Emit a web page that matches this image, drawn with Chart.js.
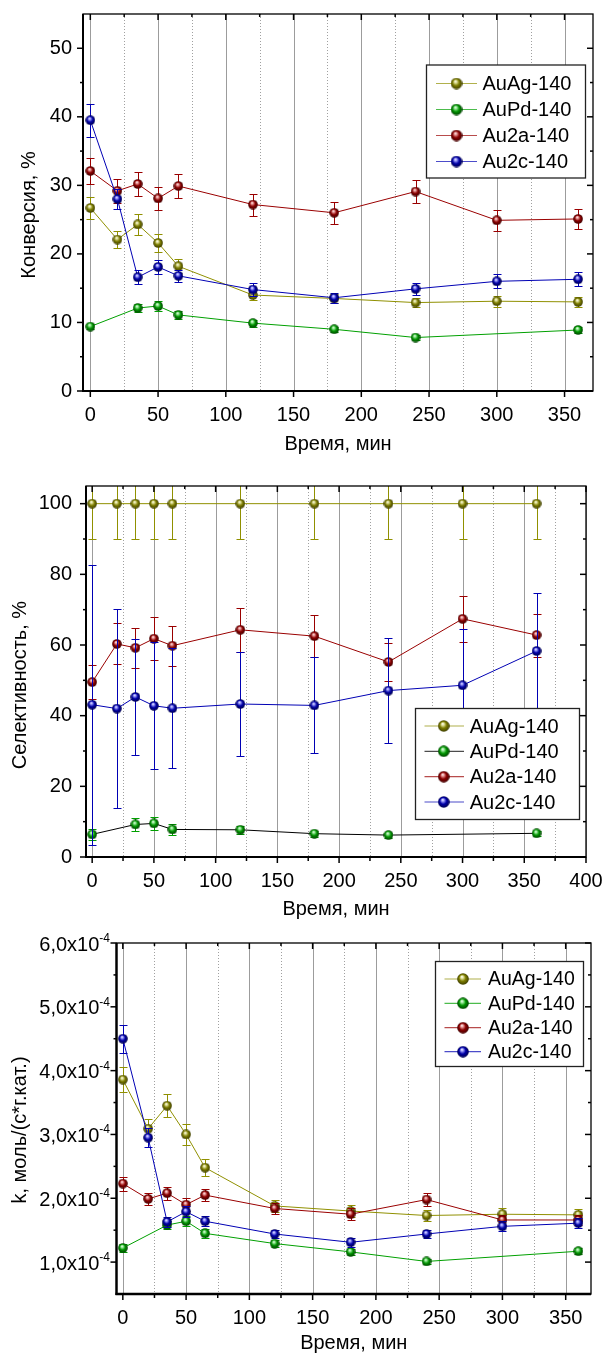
<!DOCTYPE html>
<html>
<head>
<meta charset="utf-8">
<script src="https://cdn.jsdelivr.net/npm/chart.js@4"></script>
<style>
  body { margin: 0; background: #fff; width: 603px; height: 1353px; position: relative; overflow: hidden; }
  .panel { position: absolute; left: 0; width: 603px; }
</style>
</head>
<body>
<div class="panel" style="top:0;height:460px"><canvas id="conv" width="603" height="460"></canvas></div>
<div class="panel" style="top:460px;height:460px"><canvas id="sel" width="603" height="460"></canvas></div>
<div class="panel" style="top:920px;height:433px"><canvas id="rate" width="603" height="433"></canvas></div>
<script>
// время отбора проб, мин
const TIME = [0, 20, 35, 50, 65, 120, 180, 240, 300, 360];
const TIME_PD = [0, 35, 50, 65, 120, 180, 240, 360];

// конверсия, %
const CONV_AUAG = [26.7, 22.1, 24.3, 21.6, 18.2, 14.0, 13.5, 12.9, 13.1, 13.0];
const CONV_AUAG_ERR = [1.6, 1.3, 1.5, 1.3, 1.0, 0.7, 0.7, 0.7, 0.8, 0.7];
const CONV_AUPD = [9.4, 12.1, 12.4, 11.1, 9.9, 9.0, 7.8, 8.9];
const CONV_AUPD_ERR = [0.4, 0.6, 0.7, 0.6, 0.5, 0.4, 0.4, 0.4];
const CONV_AU2A = [32.1, 29.2, 30.2, 28.1, 29.9, 27.2, 26.0, 29.1, 24.9, 25.1];
const CONV_AU2A_ERR = [1.9, 1.7, 1.8, 1.7, 1.8, 1.6, 1.6, 1.7, 1.5, 1.5];
const CONV_AU2C = [39.5, 28.0, 16.6, 18.1, 16.8, 14.8, 13.6, 14.9, 16.0, 16.3];
const CONV_AU2C_ERR = [2.4, 1.5, 1.0, 1.0, 0.9, 0.9, 0.7, 0.9, 1.0, 1.0];

// селективность, %
const SEL_AUAG = [100, 100, 100, 100, 100, 100, 100, 100, 100, 100];
const SEL_AUAG_ERR = [10, 10, 10, 10, 10, 10, 10, 10, 10, 10];
const SEL_AUPD = [6.4, 9.2, 9.5, 7.8, 7.7, 6.6, 6.2, 6.7];
const SEL_AUPD_ERR = [1.5, 1.7, 1.8, 1.5, 1.2, 0.9, 0.7, 0.8];
const SEL_AU2A = [49.5, 60.3, 59.2, 61.8, 59.8, 64.3, 62.5, 55.2, 67.4, 62.8];
const SEL_AU2A_ERR = [4.9, 5.8, 5.7, 6.0, 5.7, 6.3, 6.0, 5.4, 6.5, 6.1];
const SEL_AU2C = [43.1, 42.0, 45.3, 42.8, 42.1, 43.3, 42.9, 47.1, 48.6, 58.3];
const SEL_AU2C_ERR = [39.6, 28.2, 16.5, 18.0, 17.0, 14.7, 13.6, 14.9, 16.0, 16.4];

// константа скорости k, моль/(с*г.кат.)
const K_AUAG = [3.86e-4, 3.09e-4, 3.45e-4, 3.00e-4, 2.48e-4, 1.88e-4, 1.80e-4, 1.73e-4, 1.75e-4, 1.74e-4];
const K_AUAG_ERR = [0.20e-4, 0.15e-4, 0.18e-4, 0.16e-4, 0.13e-4, 0.10e-4, 0.10e-4, 0.09e-4, 0.09e-4, 0.09e-4];
const K_AUPD = [1.22e-4, 1.58e-4, 1.64e-4, 1.45e-4, 1.29e-4, 1.16e-4, 1.01e-4, 1.17e-4];
const K_AUPD_ERR = [0.06e-4, 0.06e-4, 0.08e-4, 0.07e-4, 0.06e-4, 0.05e-4, 0.04e-4, 0.05e-4];
const K_AU2A = [2.23e-4, 1.99e-4, 2.08e-4, 1.90e-4, 2.05e-4, 1.84e-4, 1.75e-4, 1.98e-4, 1.66e-4, 1.66e-4];
const K_AU2A_ERR = [0.11e-4, 0.10e-4, 0.10e-4, 0.10e-4, 0.10e-4, 0.09e-4, 0.09e-4, 0.10e-4, 0.08e-4, 0.08e-4];
const K_AU2C = [4.50e-4, 2.95e-4, 1.63e-4, 1.79e-4, 1.64e-4, 1.44e-4, 1.31e-4, 1.44e-4, 1.56e-4, 1.61e-4];
const K_AU2C_ERR = [0.22e-4, 0.15e-4, 0.08e-4, 0.09e-4, 0.08e-4, 0.07e-4, 0.07e-4, 0.07e-4, 0.08e-4, 0.08e-4];

// деления осей
const X_TICKS = [0, 50, 100, 150, 200, 250, 300, 350];
const X_MINOR = [25, 75, 125, 175, 225, 275, 325];
const X_TICKS_SEL = [0, 50, 100, 150, 200, 250, 300, 350, 400];
const X_MINOR_SEL = [25, 75, 125, 175, 225, 275, 325, 375];
const CONV_TICKS = [0, 10, 20, 30, 40, 50];
const CONV_MINOR = [5, 15, 25, 35, 45];
const SEL_TICKS = [0, 20, 40, 60, 80, 100];
const SEL_MINOR = [10, 30, 50, 70, 90];
const K_TICKS = [1e-4, 2e-4, 3e-4, 4e-4, 5e-4, 6e-4];
const K_MINOR = [1.5e-4, 2.5e-4, 3.5e-4, 4.5e-4, 5.5e-4];

const FONT = '"Liberation Sans", Arial, Helvetica, sans-serif';
Chart.defaults.font.family = FONT;
Chart.defaults.color = '#000';

const STYLE = {
  AuAg: { line: '#909000', ball: '#7d7d00', hi: '#e8e8a8', dark: '#3a3a00', order: 3 },
  AuPd: { line: '#00a000', ball: '#009600', hi: '#a8f0a8', dark: '#003c00', order: 2 },
  Au2a: { line: '#9a0000', ball: '#8c0000', hi: '#f0a8a8', dark: '#3c0000', order: 1 },
  Au2c: { line: '#0000b4', ball: '#0000a8', hi: '#a8a8ff', dark: '#000048', order: 0 }
};

// шарик-маркер с бликом
function sphere(st, d) {
  const cv = document.createElement('canvas');
  cv.width = cv.height = d;
  const g = cv.getContext('2d');
  const r = d / 2;
  const gr = g.createRadialGradient(r * 0.8, r * 0.6, 0, r, r, r);
  gr.addColorStop(0, '#ffffff');
  gr.addColorStop(0.2, st.hi);
  gr.addColorStop(0.55, st.ball);
  gr.addColorStop(1, st.dark);
  g.fillStyle = gr;
  g.beginPath();
  g.arc(r, r, r - 0.2, 0, Math.PI * 2);
  g.fill();
  return cv;
}

function series(label, xs, ys, errs, st, line) {
  return {
    label,
    data: xs.map((t, i) => ({ x: t, y: ys[i] })),
    errors: errs,
    errorColor: st.line,
    borderColor: line || st.line,
    borderWidth: 1,
    pointStyle: sphere(st, 10),
    legendBall: sphere(st, 12),
    pointRadius: 5,
    pointHoverRadius: 5,
    order: st.order
  };
}

// вертикальные погрешности
const errorBars = {
  id: 'errorBars',
  beforeDatasetDraw(chart, args) {
    const ds = chart.data.datasets[args.index];
    if (!ds.errors) return;
    const { ctx, chartArea: a, scales: { x, y } } = chart;
    ctx.save();
    ctx.beginPath();
    ctx.rect(a.left, a.top, a.right - a.left, a.bottom - a.top);
    ctx.clip();
    ctx.strokeStyle = ds.errorColor;
    ctx.lineWidth = 1;
    ds.data.forEach((p, i) => {
      const e = ds.errors[i];
      const px = Math.round(x.getPixelForValue(p.x)) + 0.5;
      const y1 = Math.round(y.getPixelForValue(p.y + e)) + 0.5;
      const y2 = Math.round(y.getPixelForValue(p.y - e)) + 0.5;
      ctx.beginPath();
      ctx.moveTo(px, y1); ctx.lineTo(px, y2);
      ctx.moveTo(px - 4, y1); ctx.lineTo(px + 4, y1);
      ctx.moveTo(px - 4, y2); ctx.lineTo(px + 4, y2);
      ctx.stroke();
    });
    ctx.restore();
  }
};

// сетка, рамка с засечками, легенда и подписи оси Y
const frame = {
  id: 'frame',
  beforeDatasetsDraw(chart, args, o) {
    const { ctx, chartArea: a, scales: { x } } = chart;
    ctx.save();
    ctx.lineWidth = 1;
    ctx.strokeStyle = '#9c9c9c';
    o.xMajor.forEach(v => {
      const p = Math.round(x.getPixelForValue(v)) + 0.5;
      ctx.beginPath(); ctx.moveTo(p, a.top); ctx.lineTo(p, a.bottom); ctx.stroke();
    });
    ctx.setLineDash([1, 2]);
    ctx.strokeStyle = '#a0a0a0';
    o.xMinor.forEach(v => {
      const p = Math.round(x.getPixelForValue(v)) + 0.5;
      ctx.beginPath(); ctx.moveTo(p, a.top); ctx.lineTo(p, a.bottom); ctx.stroke();
    });
    ctx.restore();
  },
  afterDatasetsDraw(chart, args, o) {
    const { ctx, chartArea: a, scales: { x, y } } = chart;
    ctx.save();
    ctx.strokeStyle = '#000';
    const seg = (x1, y1, x2, y2) => { ctx.beginPath(); ctx.moveTo(x1, y1); ctx.lineTo(x2, y2); ctx.stroke(); };
    ctx.lineWidth = 1.5;
    o.xMajor.forEach(v => {
      const p = x.getPixelForValue(v);
      seg(p, a.bottom, p, a.bottom + 6);
      seg(p, a.top, p, a.top + 6);
    });
    o.xMinor.forEach(v => {
      const p = x.getPixelForValue(v);
      if (o.bottomMinor) seg(p, a.bottom, p, a.bottom + 4);
      seg(p, a.top, p, a.top + 3);
    });
    o.yMajor.forEach(v => {
      const p = y.getPixelForValue(v);
      seg(a.left - 6, p, a.left, p);
      seg(a.right - 6, p, a.right, p);
    });
    o.yMinor.forEach(v => {
      const p = y.getPixelForValue(v);
      seg(a.left - 3, p, a.left, p);
      seg(a.right - 3, p, a.right, p);
    });
    ctx.lineWidth = 1.3;
    ctx.strokeRect(a.left, a.top, a.right - a.left, a.bottom - a.top);
    ctx.lineWidth = o.axisWidth;
    seg(a.left, a.top, a.left, a.bottom + 1);
    seg(a.left - 1, a.bottom, a.right, a.bottom);

    // легенда
    const L = o.legend;
    ctx.fillStyle = '#fff';
    ctx.fillRect(L.left, L.top, L.width, L.height);
    ctx.lineWidth = 1.3;
    ctx.strokeStyle = '#222';
    ctx.strokeRect(L.left, L.top, L.width, L.height);
    const items = chart.data.datasets;
    items.forEach((ds, i) => {
      const ry = L.rows[i];
      ctx.globalAlpha = 0.7;
      ctx.strokeStyle = ds.borderColor;
      ctx.lineWidth = 1.2;
      seg(L.lineFrom, ry, L.lineTo, ry);
      ctx.globalAlpha = 1;
      ctx.drawImage(ds.legendBall, L.ballX - 6, ry - 6);
      ctx.fillStyle = '#000';
      ctx.font = L.size + 'px ' + FONT;
      ctx.textAlign = 'left';
      ctx.textBaseline = 'middle';
      ctx.fillText(ds.label, L.textX, ry + 1);
    });

    // заголовок оси Y
    ctx.save();
    ctx.translate(o.yTitle.x, o.yTitle.y);
    ctx.rotate(-Math.PI / 2);
    ctx.font = '20px ' + FONT;
    ctx.textAlign = 'center';
    ctx.textBaseline = 'middle';
    ctx.fillStyle = '#000';
    ctx.fillText(o.yTitle.text, 0, 0);
    ctx.restore();

    // подписи вида 6,0x10^-4
    if (o.expLabels) {
      const right = a.left - 6.5;
      o.yMajor.forEach(v => {
        const p = y.getPixelForValue(v);
        ctx.textAlign = 'right';
        ctx.font = '12px ' + FONT;
        ctx.textBaseline = 'alphabetic';
        const sw = ctx.measureText('-4').width;
        ctx.fillText('-4', right, p - 1);
        ctx.font = '20px ' + FONT;
        ctx.textBaseline = 'middle';
        ctx.fillText((v * 1e4).toFixed(1).replace('.', ',') + 'x10', right - sw, p + 2);
      });
    }
    ctx.restore();
  }
};

function makeChart(id, c) {
  return new Chart(document.getElementById(id), {
    type: 'line',
    data: { datasets: c.datasets },
    options: {
      responsive: false,
      animation: false,
      devicePixelRatio: 1,
      layout: { padding: c.padding },
      plugins: { legend: { display: false }, tooltip: { enabled: false }, frame: c.frame },
      scales: {
        x: {
          type: 'linear', min: c.xMin, max: c.xMax,
          afterBuildTicks: s => { s.ticks = c.xTicks.map(v => ({ value: v })); },
          afterFit: s => { s.height = c.xHeight; },
          grid: { display: true, drawOnChartArea: false, drawTicks: true, tickLength: c.xGap, tickColor: 'rgba(0,0,0,0)' },
          border: { display: false },
          ticks: { padding: 0, autoSkip: false, maxRotation: 0, font: { size: 20 }, callback: v => String(v) },
          title: { display: true, text: 'Время, мин', font: { size: 20, lineHeight: 1 }, padding: { top: 0, bottom: c.xTitlePad } }
        },
        y: {
          type: 'linear', min: c.yMin, max: c.yMax,
          afterBuildTicks: s => { s.ticks = c.yTicks.map(v => ({ value: v })); },
          afterFit: s => { s.width = c.yWidth; },
          grid: { display: c.yLabels, drawOnChartArea: false, drawTicks: true, tickLength: c.yGap, tickColor: 'rgba(0,0,0,0)' },
          border: { display: false },
          ticks: { display: c.yLabels, padding: 0, font: { size: 20 }, callback: v => String(v) }
        }
      }
    },
    plugins: [errorBars, frame]
  });
}

makeChart('conv', {
  datasets: [
    series('AuAg-140', TIME, CONV_AUAG, CONV_AUAG_ERR, STYLE.AuAg),
    series('AuPd-140', TIME_PD, CONV_AUPD, CONV_AUPD_ERR, STYLE.AuPd),
    series('Au2a-140', TIME, CONV_AU2A, CONV_AU2A_ERR, STYLE.Au2a),
    series('Au2c-140', TIME, CONV_AU2C, CONV_AU2C_ERR, STYLE.Au2c)
  ],
  padding: { left: 0, top: 14, right: 10, bottom: 3 },
  xMin: -5.4, xMax: 371, yMin: 0, yMax: 55,
  xTicks: X_TICKS, yTicks: CONV_TICKS,
  xHeight: 66, xGap: 12, xTitlePad: 3, yWidth: 83, yGap: 11, yLabels: true,
  frame: {
    xMajor: X_TICKS, xMinor: X_MINOR, yMajor: CONV_TICKS, yMinor: CONV_MINOR,
    bottomMinor: false, axisWidth: 2, expLabels: false,
    yTitle: { text: 'Конверсия, %', x: 29, y: 215 },
    legend: { left: 426.5, top: 65, width: 159, height: 113, rows: [83.5, 109.5, 135.5, 161.5], lineFrom: 436, lineTo: 477, ballX: 456.5, textX: 482.5, size: 20 }
  }
});

makeChart('sel', {
  datasets: [
    series('AuAg-140', TIME, SEL_AUAG, SEL_AUAG_ERR, STYLE.AuAg),
    series('AuPd-140', TIME_PD, SEL_AUPD, SEL_AUPD_ERR, STYLE.AuPd, '#000000'),
    series('Au2a-140', TIME, SEL_AU2A, SEL_AU2A_ERR, STYLE.Au2a),
    series('Au2c-140', TIME, SEL_AU2C, SEL_AU2C_ERR, STYLE.Au2c)
  ],
  padding: { left: 0, top: 26, right: 17, bottom: 0 },
  xMin: -5, xMax: 400, yMin: 0, yMax: 105,
  xTicks: X_TICKS_SEL, yTicks: SEL_TICKS,
  xHeight: 63, xGap: 12, xTitlePad: 1, yWidth: 86, yGap: 14, yLabels: true,
  frame: {
    xMajor: X_TICKS_SEL, xMinor: X_MINOR_SEL, yMajor: SEL_TICKS, yMinor: SEL_MINOR,
    bottomMinor: true, axisWidth: 2, expLabels: false,
    yTitle: { text: 'Селективность, %', x: 20, y: 225 },
    legend: { left: 415.5, top: 248.5, width: 164, height: 111, rows: [266, 291.3, 316.7, 342], lineFrom: 424.5, lineTo: 464, ballX: 443.7, textX: 469.7, size: 20 }
  }
});

makeChart('rate', {
  datasets: [
    series('AuAg-140', TIME, K_AUAG, K_AUAG_ERR, STYLE.AuAg),
    series('AuPd-140', TIME_PD, K_AUPD, K_AUPD_ERR, STYLE.AuPd),
    series('Au2a-140', TIME, K_AU2A, K_AU2A_ERR, STYLE.Au2a),
    series('Au2c-140', TIME, K_AU2C, K_AU2C_ERR, STYLE.Au2c)
  ],
  padding: { left: 0, top: 23, right: 12, bottom: 0 },
  xMin: -5, xMax: 370, yMin: 0.5e-4, yMax: 6e-4,
  xTicks: X_TICKS, yTicks: K_TICKS,
  xHeight: 59, xGap: 12, xTitlePad: 0, yWidth: 116.5, yGap: 0, yLabels: false,
  frame: {
    xMajor: X_TICKS, xMinor: X_MINOR, yMajor: K_TICKS, yMinor: K_MINOR,
    bottomMinor: true, axisWidth: 2.4, expLabels: true,
    yTitle: { text: 'k, моль/(с*г.кат.)', x: 20, y: 210 },
    legend: { left: 435.5, top: 41.5, width: 148, height: 105, rows: [59, 83.3, 107.7, 131.7], lineFrom: 444.5, lineTo: 481, ballX: 463, textX: 488, size: 19.5 }
  }
});
</script>
</body>
</html>
